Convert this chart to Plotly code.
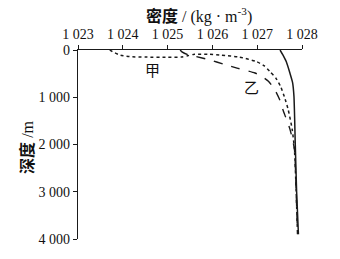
import plotly.graph_objects as go

# 甲 (dotted)
jia_depth = [0, 50, 110, 140, 150, 153, 150, 120, 90, 90, 110, 150, 245, 330, 454, 600, 768, 1000, 1255, 1674, 2090, 3000, 3900]
jia_density = [1023.71, 1023.80, 1023.95, 1024.15, 1024.5, 1025.0, 1025.3, 1025.45, 1025.6, 1025.9, 1026.2, 1026.6, 1026.98, 1027.15, 1027.28, 1027.42, 1027.52, 1027.61, 1027.69, 1027.78, 1027.83, 1027.87, 1027.9]

# 乙 (dashed)
yi_depth = [0, 40, 100, 140, 210, 300, 383, 487, 560, 662, 837, 1050, 1255, 1674, 2090, 3000, 3900]
yi_density = [1025.28, 1025.32, 1025.45, 1025.64, 1025.94, 1026.25, 1026.55, 1026.95, 1027.1, 1027.25, 1027.39, 1027.5, 1027.57, 1027.73, 1027.83, 1027.87, 1027.9]

# 丙 (solid)
bing_depth = [0, 100, 250, 487, 690, 977, 2000, 3000, 3900]
bing_density = [1027.51, 1027.57, 1027.65, 1027.73, 1027.79, 1027.82, 1027.85, 1027.88, 1027.92]

x_ticks = [1023, 1024, 1025, 1026, 1027, 1028]
x_ticktext = ["1 023", "1 024", "1 025", "1 026", "1 027", "1 028"]
y_ticks = [0, 1000, 2000, 3000, 4000]
y_ticktext = ["0", "1 000", "2 000", "3 000", "4 000"]

labels = [("甲", 1024.67, 419), ("乙", 1026.87, 775), ("丙", 1028.09, 454)]

LINE = "#1a1a1a"
FONT = "Liberation Serif, Noto Sans CJK SC, serif"

fig = go.Figure()
fig.add_trace(go.Scatter(x=jia_density, y=jia_depth, mode="lines",
                         line=dict(color=LINE, width=1.5, dash="dot", shape="spline", smoothing=0.6)))
fig.add_trace(go.Scatter(x=yi_density, y=yi_depth, mode="lines",
                         line=dict(color=LINE, width=1.4, dash="dash", shape="spline", smoothing=0.6)))
fig.add_trace(go.Scatter(x=bing_density, y=bing_depth, mode="lines",
                         line=dict(color=LINE, width=1.5, shape="spline", smoothing=0.6)))

for text, x, y in labels:
    fig.add_annotation(x=x, y=y, text=text, showarrow=False, xanchor="center", yanchor="middle",
                       font=dict(family="Noto Sans CJK SC", size=15, color="#111"))

fig.add_annotation(xref="paper", yref="paper", x=0.54, y=1.183,
                   xanchor="center", yanchor="middle",
                   text="<b>密度</b> / (kg · m<sup>-3</sup>)", showarrow=False,
                   font=dict(family=FONT, size=16, color="#111"))
fig.add_annotation(xref="paper", yref="paper", x=-0.228, y=0.487,
                   xanchor="center", yanchor="middle",
                   text="<b>深度</b> /m", showarrow=False, textangle=-90,
                   font=dict(family=FONT, size=16, color="#111"))

fig.update_xaxes(range=[1023, 1028], side="top", tickvals=x_ticks, ticktext=x_ticktext,
                 showline=True, linecolor=LINE, linewidth=1.3, ticks="outside", ticklen=4,
                 tickcolor=LINE, showgrid=False, zeroline=False,
                 tickfont=dict(family=FONT, size=14, color="#111"))
fig.update_yaxes(range=[4000, 0], tickvals=y_ticks, ticktext=y_ticktext,
                 showline=True, linecolor=LINE, linewidth=1.3, ticks="outside", ticklen=4,
                 tickcolor=LINE, showgrid=False, zeroline=False,
                 tickfont=dict(family=FONT, size=14, color="#111"))

fig.update_layout(width=340, height=259, margin=dict(l=78, r=38, t=50, b=18),
                  plot_bgcolor="white", paper_bgcolor="white", showlegend=False)

fig.write_html("out.html")
